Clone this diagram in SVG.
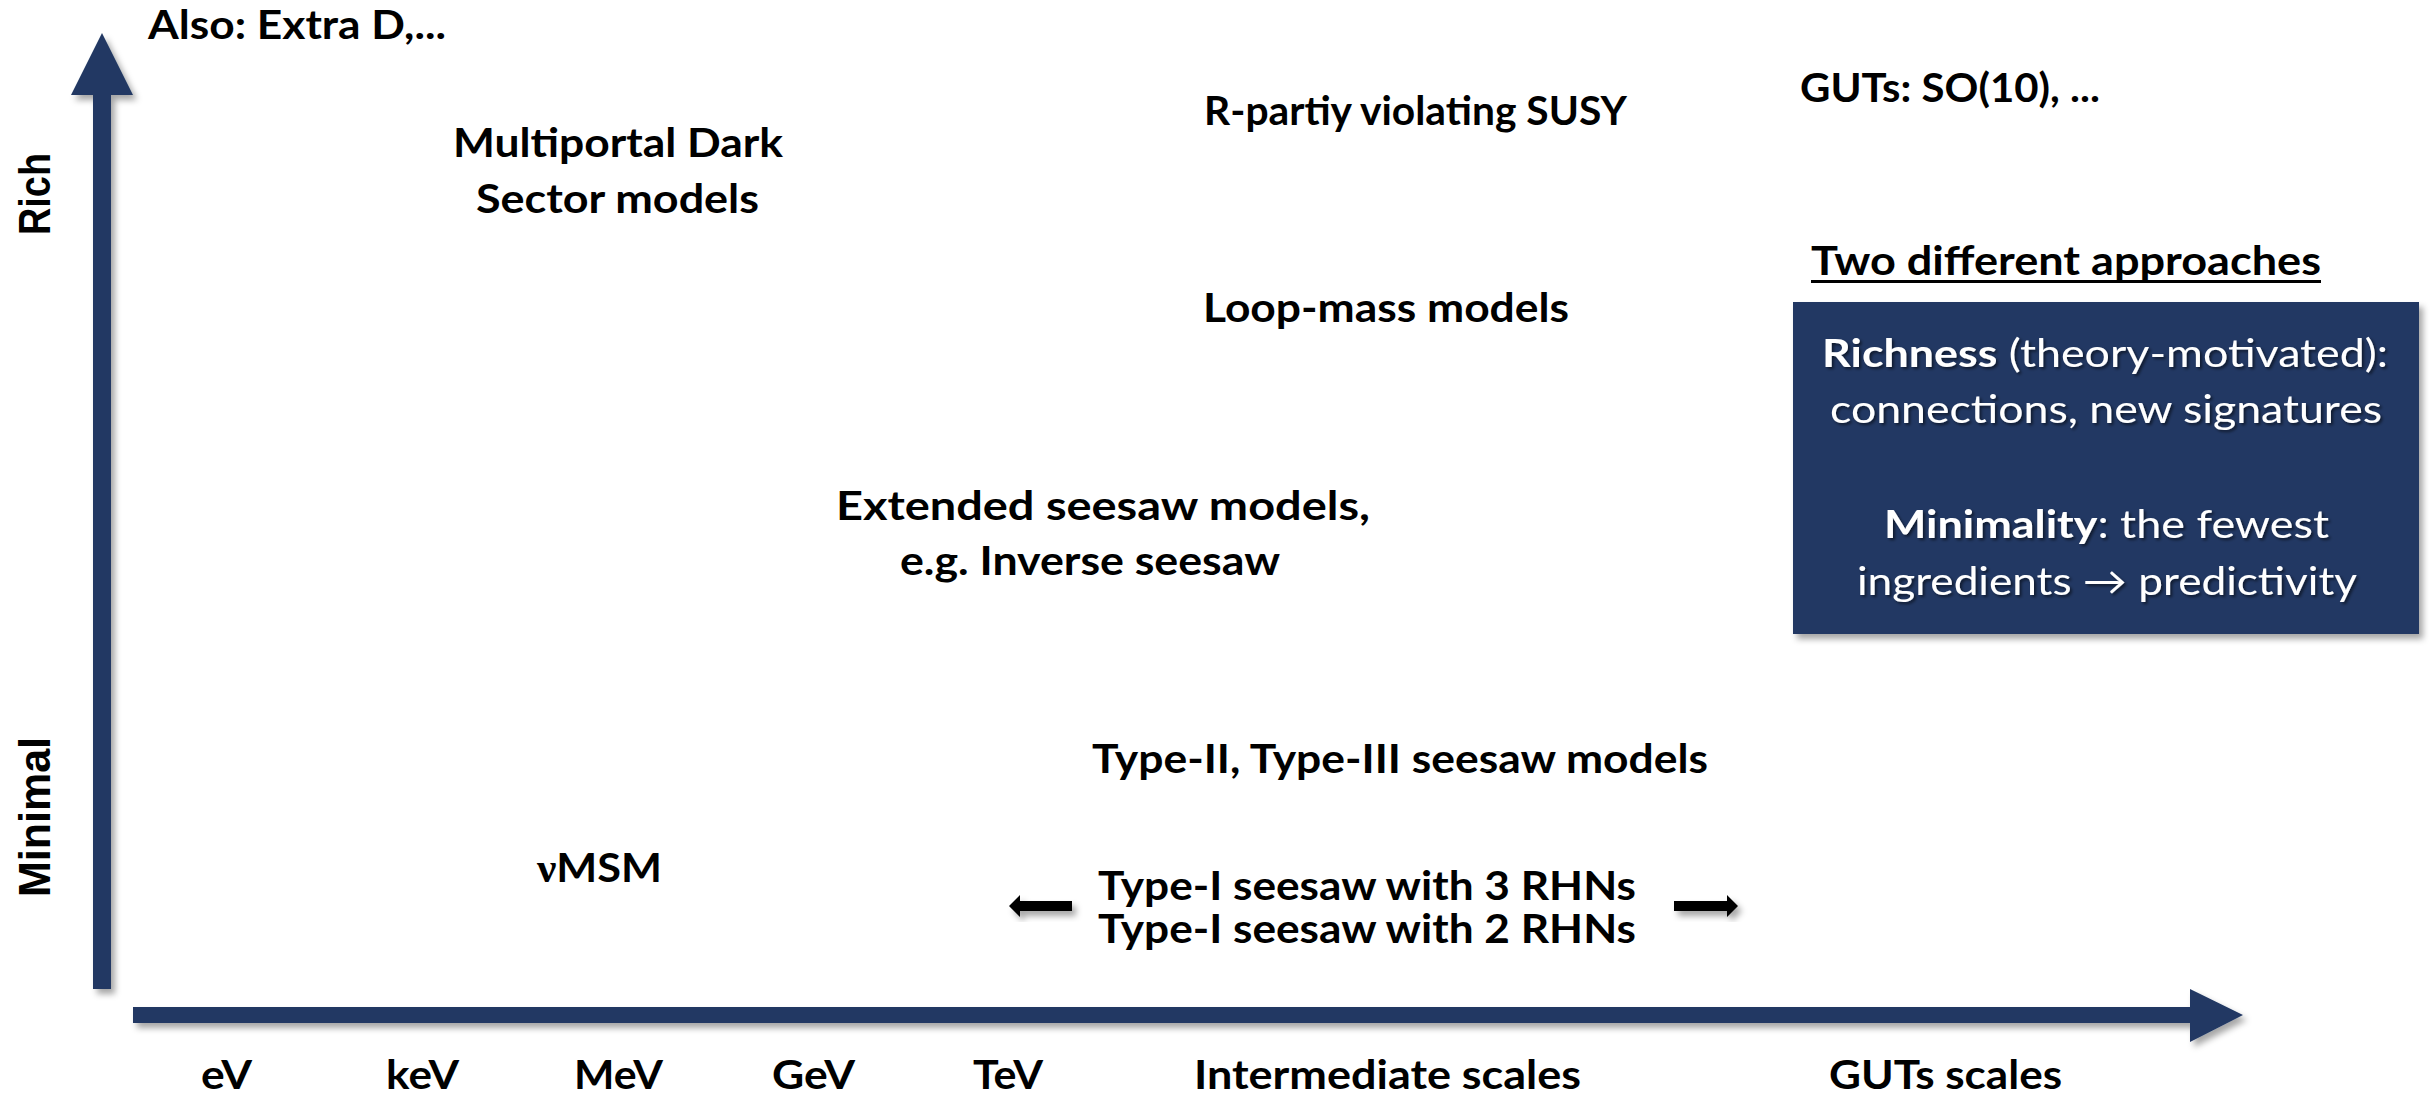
<svg xmlns="http://www.w3.org/2000/svg" width="2433" height="1094" viewBox="0 0 2433 1094">
  <defs>
    <filter id="shadow" x="-10%" y="-10%" width="130%" height="130%">
      <feDropShadow dx="4" dy="5" stdDeviation="3" flood-color="#000" flood-opacity="0.35"/>
    </filter>
    <filter id="tshadow" x="-5%" y="-20%" width="110%" height="150%">
      <feDropShadow dx="2" dy="2" stdDeviation="1.5" flood-color="#000" flood-opacity="0.55"/>
    </filter>
    <style>
      .t { font-family: Lato, "Liberation Sans", sans-serif; font-weight: 700; font-size: 41px; fill: #000; }
      .ax { font-family: "Liberation Sans", Arial, sans-serif; font-weight: 700; font-size: 44px; fill: #000; }
      .w { font-family: Lato, "Liberation Sans", sans-serif; font-weight: 400; font-size: 39px; fill: #fff; }
      .b { font-weight: 700; }
      .navy { fill: #203864; }
      .nu { font-family: "Liberation Serif", "Times New Roman", serif; font-weight: 700; }
    </style>
  </defs>
  <rect width="2433" height="1094" fill="#fff"/>

  <g id="connectors">
    <g id="y-axis" filter="url(#shadow)">
      <polygon class="navy" points="93,989 111,989 111,95 133,95 102,33 71,95 93,95"/>
    </g>
    <g id="x-axis" filter="url(#shadow)">
      <polygon class="navy" points="133,1007 2190,1007 2190,989 2243,1015 2190,1042 2190,1023 133,1023"/>
    </g>
    <g id="arrow-left" filter="url(#shadow)">
      <polygon fill="#000" points="1009,906 1020,895 1020,901 1072,901 1072,911 1020,911 1020,917"/>
    </g>
    <g id="arrow-right" filter="url(#shadow)">
      <polygon fill="#000" points="1738,906 1727,895 1727,901 1674,901 1674,911 1727,911 1727,917"/>
    </g>
  </g>

  <g id="label-rich">
    <text class="ax" transform="translate(50,194) rotate(-90)" text-anchor="middle" textLength="82" lengthAdjust="spacingAndGlyphs">Rich</text>
  </g>
  <g id="label-minimal">
    <text class="ax" transform="translate(50,817) rotate(-90)" text-anchor="middle" textLength="160" lengthAdjust="spacingAndGlyphs">Minimal</text>
  </g>

  <g id="node-extra-d">
    <text class="t" x="148" y="39" textLength="298" lengthAdjust="spacingAndGlyphs">Also: Extra D,...</text>
  </g>
  <g id="node-multiportal">
    <text class="t" x="453" y="157" textLength="330" lengthAdjust="spacingAndGlyphs">Multiportal Dark</text>
    <text class="t" x="476" y="213" textLength="283" lengthAdjust="spacingAndGlyphs">Sector models</text>
  </g>
  <g id="node-rpv-susy">
    <text class="t" x="1204" y="125" textLength="423" lengthAdjust="spacingAndGlyphs">R-partiy violating SUSY</text>
  </g>
  <g id="node-guts">
    <text class="t" x="1800" y="102" textLength="300" lengthAdjust="spacingAndGlyphs">GUTs: SO(10), ...</text>
  </g>
  <g id="node-approaches-title">
    <text class="t" x="1811" y="275" textLength="510" lengthAdjust="spacingAndGlyphs">Two different approaches</text>
    <rect x="1811" y="280" width="510" height="3" fill="#000"/>
  </g>
  <g id="node-approaches-box">
    <rect x="1793" y="302" width="626" height="332" class="navy" filter="url(#shadow)"/>
    <g filter="url(#tshadow)">
      <text class="w" x="1822" y="367" textLength="566" lengthAdjust="spacingAndGlyphs"><tspan class="b">Richness</tspan> (theory-motivated):</text>
      <text class="w" x="1830" y="423" textLength="552" lengthAdjust="spacingAndGlyphs">connections, new signatures</text>
      <text class="w" x="1884" y="538" textLength="445" lengthAdjust="spacingAndGlyphs"><tspan class="b">Minimality</tspan>: the fewest</text>
      <text class="w" x="1857" y="595" textLength="500" lengthAdjust="spacingAndGlyphs">ingredients → predictivity</text>
    </g>
  </g>
  <g id="node-loop-mass">
    <text class="t" x="1203" y="322" textLength="366" lengthAdjust="spacingAndGlyphs">Loop-mass models</text>
  </g>
  <g id="node-extended-seesaw">
    <text class="t" x="836" y="520" textLength="534" lengthAdjust="spacingAndGlyphs">Extended seesaw models,</text>
    <text class="t" x="900" y="575" textLength="380" lengthAdjust="spacingAndGlyphs">e.g. Inverse seesaw</text>
  </g>
  <g id="node-type-ii-iii">
    <text class="t" x="1092" y="773" textLength="616" lengthAdjust="spacingAndGlyphs">Type-II, Type-III seesaw models</text>
  </g>
  <g id="node-numsm">
    <text class="t" x="537" y="882" textLength="125" lengthAdjust="spacingAndGlyphs"><tspan class="nu">ν</tspan>MSM</text>
  </g>
  <g id="node-type-i">
    <text class="t" x="1098" y="900" textLength="538" lengthAdjust="spacingAndGlyphs">Type-I seesaw with 3 RHNs</text>
    <text class="t" x="1098" y="943" textLength="538" lengthAdjust="spacingAndGlyphs">Type-I seesaw with 2 RHNs</text>
  </g>

  <g id="scale-labels">
    <text class="t" x="201" y="1089" textLength="51" lengthAdjust="spacingAndGlyphs">eV</text>
    <text class="t" x="386" y="1089" textLength="73" lengthAdjust="spacingAndGlyphs">keV</text>
    <text class="t" x="574" y="1089" textLength="89" lengthAdjust="spacingAndGlyphs">MeV</text>
    <text class="t" x="772" y="1089" textLength="83" lengthAdjust="spacingAndGlyphs">GeV</text>
    <text class="t" x="973" y="1089" textLength="70" lengthAdjust="spacingAndGlyphs">TeV</text>
    <text class="t" x="1194" y="1089" textLength="387" lengthAdjust="spacingAndGlyphs">Intermediate scales</text>
    <text class="t" x="1829" y="1089" textLength="233" lengthAdjust="spacingAndGlyphs">GUTs scales</text>
  </g>
</svg>
